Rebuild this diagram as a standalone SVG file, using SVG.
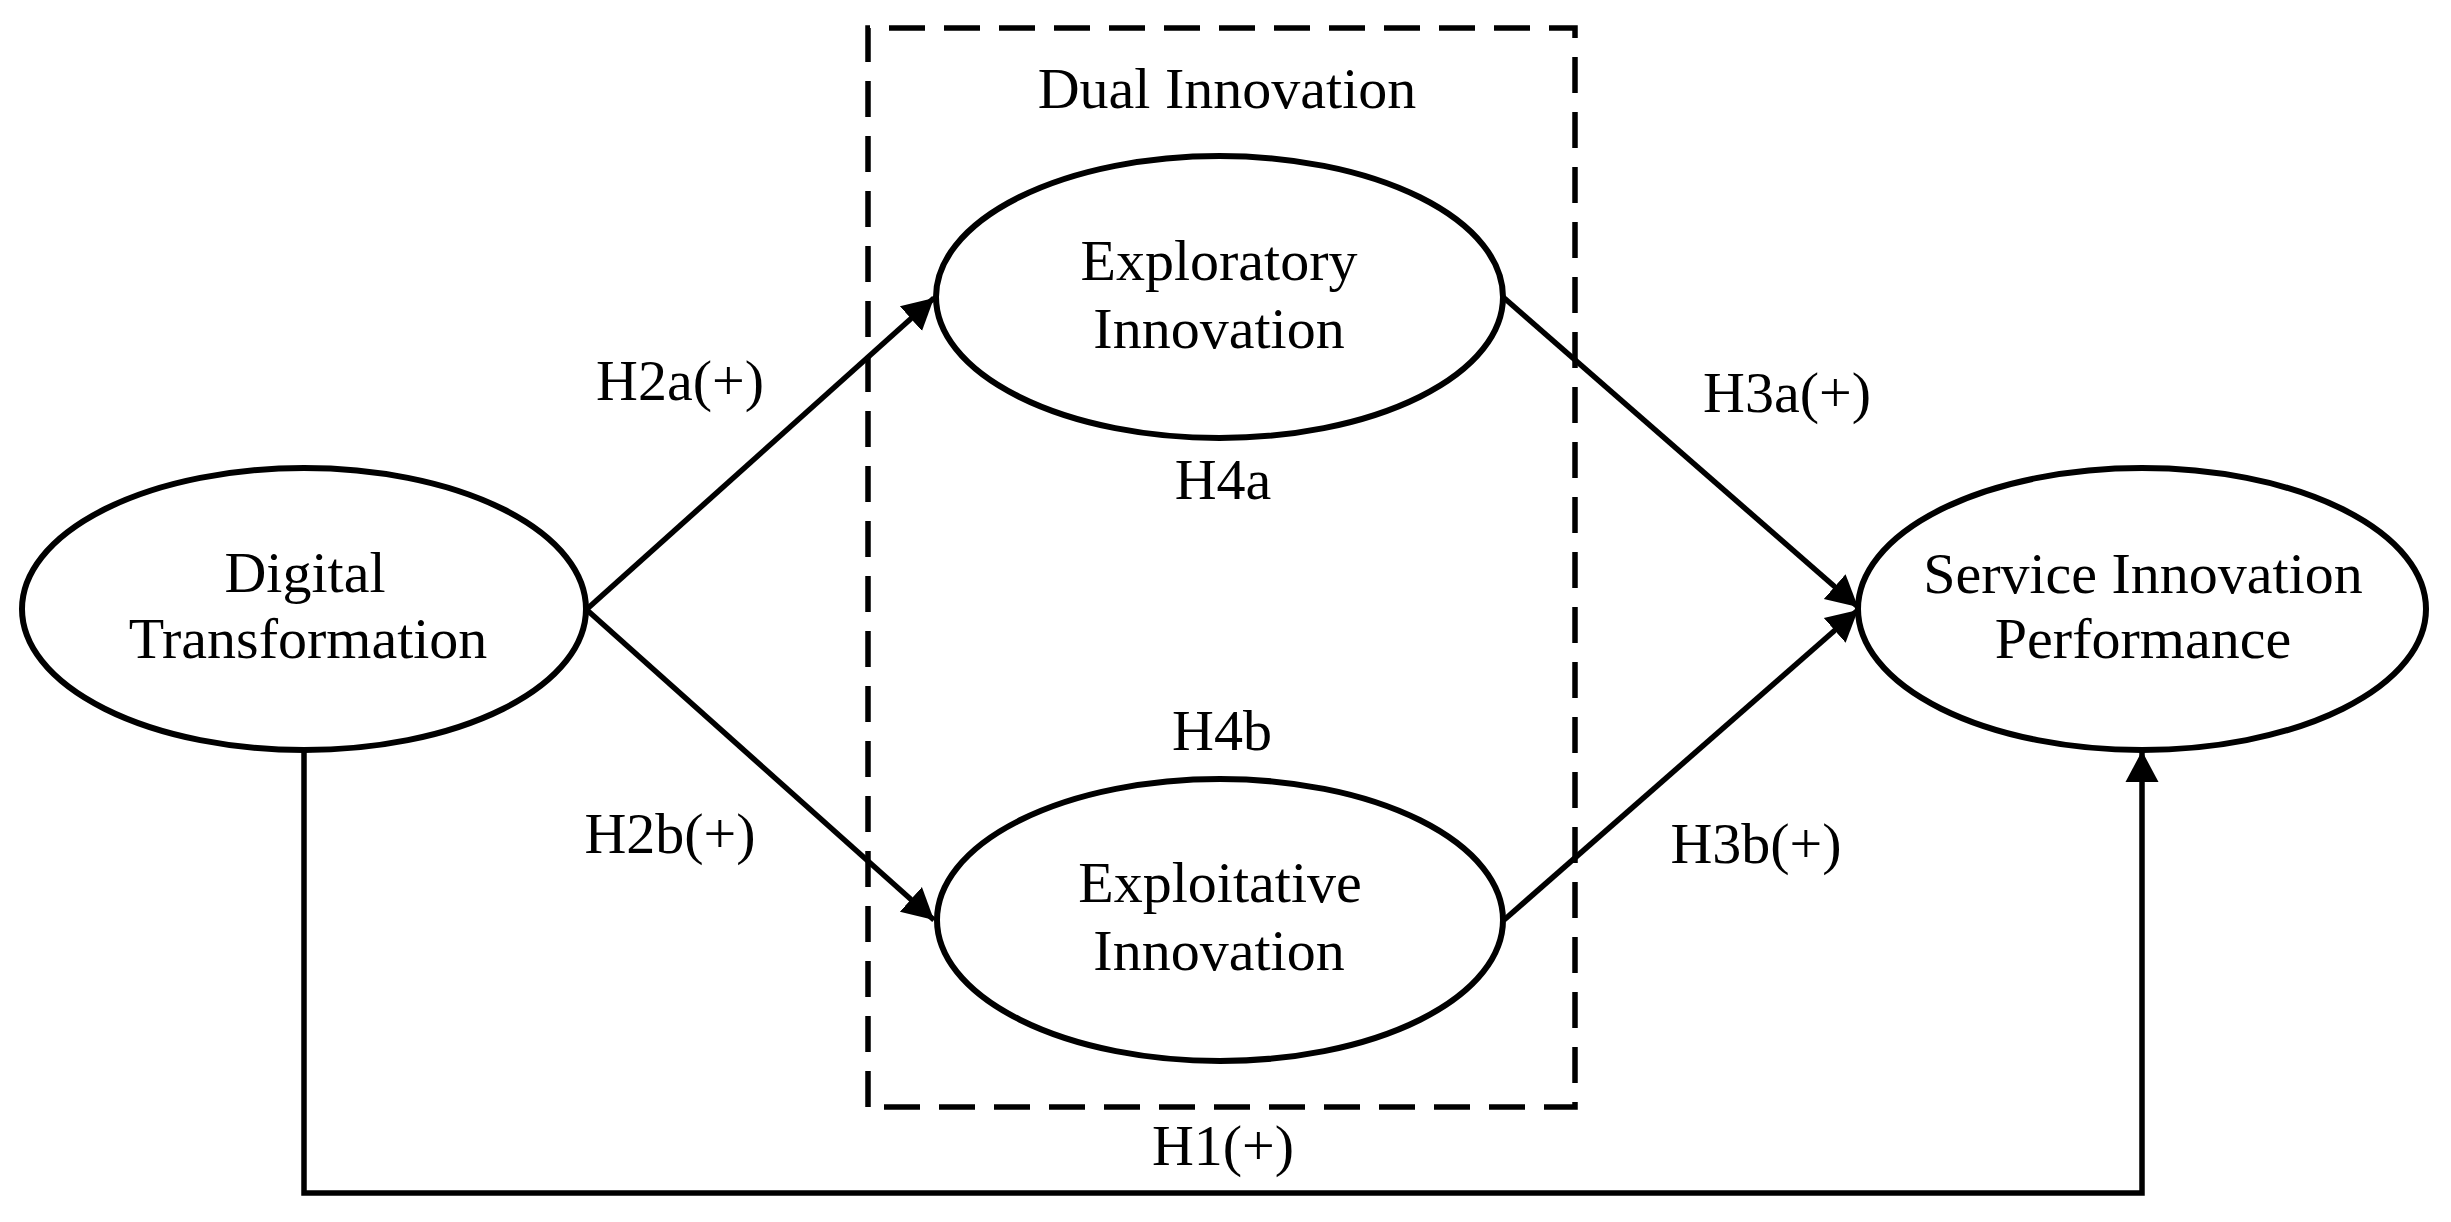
<svg xmlns="http://www.w3.org/2000/svg" width="2451" height="1222" viewBox="0 0 2451 1222">
  <style>
    .node { fill: #ffffff; stroke: #000000; stroke-width: 6; }
    .lbl { font-family: "Liberation Serif", "Times New Roman", serif; font-size: 58px; fill: #000000; text-anchor: middle; }
    .conn { fill: none; stroke: #000000; stroke-width: 5.5; }
    .group-box { fill: none; stroke: #000000; stroke-width: 5.5; stroke-dasharray: 36 19; }
  </style>
  <defs>
    <marker id="arrow" markerUnits="userSpaceOnUse" markerWidth="32" markerHeight="36" viewBox="0 -17 31 34" refX="30" refY="0" orient="auto">
      <path d="M0,-16 L30,0 L0,16 z" fill="#000000"/>
    </marker>
  </defs>
  <rect width="2451" height="1222" fill="#ffffff"/>

  <g id="dual-innovation-box">
    <path class="group-box" d="M868,1107 V28 H1575 V1107 Z"/>
    <text class="lbl" x="1227" y="108">Dual Innovation</text>
  </g>

  <g id="connectors">
    <line class="conn" x1="587" y1="609" x2="934" y2="298" marker-end="url(#arrow)"/>
    <line class="conn" x1="587" y1="610" x2="934" y2="920" marker-end="url(#arrow)"/>
    <line class="conn" x1="1503" y1="297" x2="1858" y2="607" marker-end="url(#arrow)"/>
    <line class="conn" x1="1504" y1="920" x2="1858" y2="610" marker-end="url(#arrow)"/>
    <path class="conn" d="M304,749 V1193 H2142 V751" marker-end="url(#arrow)"/>
    <text class="lbl" x="680" y="400">H2a(+)</text>
    <text class="lbl" x="670" y="853">H2b(+)</text>
    <text class="lbl" x="1787" y="412">H3a(+)</text>
    <text class="lbl" x="1756" y="863">H3b(+)</text>
    <text class="lbl" x="1223" y="499">H4a</text>
    <text class="lbl" x="1222" y="750">H4b</text>
    <text class="lbl" x="1223" y="1165">H1(+)</text>
  </g>

  <g id="digital-transformation">
    <ellipse class="node" cx="304" cy="609" rx="282" ry="141"/>
    <text class="lbl" x="305" y="592">Digital</text>
    <text class="lbl" x="308" y="658">Transformation</text>
  </g>

  <g id="exploratory-innovation">
    <ellipse class="node" cx="1219.5" cy="297" rx="283.5" ry="141"/>
    <text class="lbl" x="1219" y="280">Exploratory</text>
    <text class="lbl" x="1219" y="348">Innovation</text>
  </g>

  <g id="exploitative-innovation">
    <ellipse class="node" cx="1220" cy="920" rx="283" ry="141"/>
    <text class="lbl" x="1220" y="902">Exploitative</text>
    <text class="lbl" x="1219" y="970">Innovation</text>
  </g>

  <g id="service-innovation-performance">
    <ellipse class="node" cx="2142" cy="609" rx="284" ry="141"/>
    <text class="lbl" x="2143" y="593">Service Innovation</text>
    <text class="lbl" x="2143" y="658">Performance</text>
  </g>
</svg>
